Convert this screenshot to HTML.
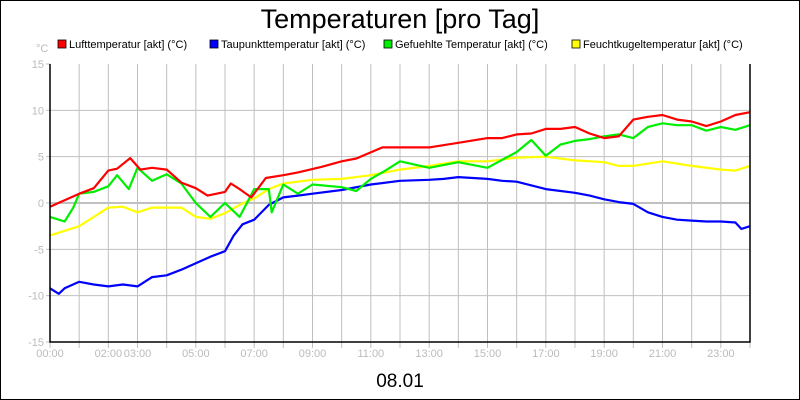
<!DOCTYPE html>
<html><head><meta charset="utf-8">
<style>
html,body{margin:0;padding:0;background:#fff}
svg{display:block;font-family:"Liberation Sans",sans-serif}
</style></head>
<body>
<svg id="chart" width="800" height="400" viewBox="0 0 800 400">
<rect x="0.5" y="0.5" width="799" height="399" fill="#fff" stroke="#000" stroke-width="1"/>
<text x="400" y="28" text-anchor="middle" font-size="27">Temperaturen [pro Tag]</text>
<text x="36" y="52" font-size="11" fill="#bbb">°C</text>
<g id="legend"></g>
<g id="grid"></g>
<g id="series"></g>
<g id="axes"></g>
<text x="400" y="387" text-anchor="middle" font-size="19">08.01</text>
</svg>
<script>
const legendLabels=["Lufttemperatur [akt] (°C)","Taupunkttemperatur [akt] (°C)","Gefuehlte Temperatur [akt] (°C)","Feuchtkugeltemperatur [akt] (°C)"];
const seriesColors=["#ff0000","#0000ff","#00ee00","#ffff00"];
const yTicks=[15,10,5,0,-5,-10,-15];
const xTickLabels=["00:00","02:00","03:00","05:00","07:00","09:00","11:00","13:00","15:00","17:00","19:00","21:00","23:00"];
const xTickHours=[0,2,3,5,7,9,11,13,15,17,19,21,23];
const luftHours=[0,0.5,1,1.5,2,2.3,2.75,3.1,3.5,4,4.5,5,5.4,6,6.2,6.5,6.9,7.4,8,8.5,9.3,10,10.5,11.4,12,13,14,15,15.5,16,16.5,17,17.5,18,18.5,19,19.5,20,20.5,21,21.5,22,22.5,23,23.5,24];
const luft=[-0.4,0.3,1,1.6,3.5,3.7,4.85,3.6,3.8,3.6,2.2,1.6,0.8,1.2,2.1,1.5,0.6,2.7,3,3.3,3.9,4.5,4.8,6,6,6,6.5,7,7,7.4,7.5,8,8,8.2,7.5,7,7.2,9,9.3,9.5,9,8.8,8.3,8.8,9.5,9.8];
const tauHours=[0,0.3,0.5,1,1.5,2,2.5,3,3.5,4,4.5,5,5.5,6,6.3,6.6,7,7.5,8,8.5,9,10,11,12,13,13.5,14,15,15.5,16,17,18,18.5,19,19.5,20,20.5,21,21.5,22,22.5,23,23.5,23.7,24];
const tau=[-9.2,-9.8,-9.2,-8.5,-8.8,-9,-8.8,-9,-8,-7.8,-7.2,-6.5,-5.8,-5.2,-3.5,-2.3,-1.8,-0.2,0.6,0.8,1,1.4,2,2.4,2.5,2.6,2.8,2.6,2.4,2.3,1.5,1.1,0.8,0.4,0.1,-0.1,-1,-1.5,-1.8,-1.9,-2,-2,-2.1,-2.8,-2.5];
const gefHours=[0,0.5,0.8,1,1.5,2,2.3,2.7,3,3.5,4,4.5,5,5.5,6,6.5,7,7.5,7.6,8,8.5,9,10,10.5,11,11.5,12,13,14,15,16,16.5,17,17.5,18,18.5,19,19.5,20,20.5,21,21.5,22,22.5,23,23.5,24];
const gef=[-1.5,-2,-0.5,1,1.2,1.8,3,1.5,3.8,2.4,3.1,2.1,0,-1.5,0,-1.5,1.5,1.5,-1,2,1,2,1.7,1.3,2.6,3.5,4.5,3.8,4.4,3.8,5.5,6.8,5.1,6.3,6.7,6.9,7.2,7.4,7,8.2,8.6,8.4,8.4,7.8,8.2,7.9,8.4];
const feuHours=[0,0.5,1,1.5,2,2.5,3,3.5,4,4.5,5,5.5,6,6.5,7,7.5,8,9,10,11,12,13,14,15,16,17,18,19,19.5,20,21,22,23,23.5,24];
const feu=[-3.5,-3,-2.5,-1.5,-0.5,-0.4,-1,-0.5,-0.5,-0.5,-1.5,-1.7,-1.1,-0.2,0.5,1.5,2.1,2.5,2.6,3,3.6,4,4.5,4.5,4.9,5,4.6,4.4,4,4,4.5,4,3.6,3.5,4];
const NS="http://www.w3.org/2000/svg";
const X0=50,X1=750,Y0=64,Y1=342;
function xs(h){return X0+(X1-X0)*h/24;}
function ys(v){return Y1-(v+15)/30*(Y1-Y0);}
const grid=document.getElementById('grid'),axes=document.getElementById('axes'),ser=document.getElementById('series'),leg=document.getElementById('legend');
function mk(tag,attrs,parent){const e=document.createElementNS(NS,tag);for(const k in attrs)e.setAttribute(k,attrs[k]);parent.appendChild(e);return e;}
for(let h=1;h<24;h++){
 const l=mk('line',{x1:xs(h),x2:xs(h),y1:Y0,y2:Y1,stroke:'#c0c0c0','stroke-width':1},grid);
 
 
}
for(let h=0;h<=24;h++){
 const t=mk('line',{x1:xs(h),x2:xs(h),y1:Y1,y2:Y1+6,stroke:'#c0c0c0'},axes);
 
 
}
yTicks.forEach(v=>{
 if(v!==15&&v!==-15){const l=mk('line',{x1:X0,x2:X1,y1:ys(v),y2:ys(v),stroke:'#c0c0c0','stroke-width':v===0?2:1},grid);
 
 }
 const tk=mk('line',{x1:X0-4,x2:X0,y1:ys(v),y2:ys(v),stroke:'#c0c0c0'},axes);
 
 
 const t=mk('text',{x:X0-6,y:ys(v)+4,'text-anchor':'end','font-size':11,fill:'#bbb'},axes);
 t.textContent=v;
 
 
});
xTickHours.forEach((h,i)=>{
 const t=mk('text',{x:xs(h),y:Y1+15,'text-anchor':'middle','font-size':11,fill:'#bbb'},axes);
 t.textContent=xTickLabels[i];
 
 
});
const fr=mk('path',{d:`M${X0},${Y0}V${Y1}H${X1}V${Y0}`,fill:'none',stroke:'#000','stroke-width':1.5},axes);


const allSeries=[[luftHours,luft],[tauHours,tau],[gefHours,gef],[feuHours,feu]];
const names=['luft-line','taupunkt-line','gefuehlt-line','feuchtkugel-line'];
[3,1,2,0].forEach(i=>{
 const [hs,vs]=allSeries[i];
 const d=hs.map((h,j)=>(j?'L':'M')+xs(h).toFixed(1)+','+ys(vs[j]).toFixed(1)).join('');
 const p=mk('path',{d:d,fill:'none',stroke:seriesColors[i],'stroke-width':2.2,'stroke-linejoin':'round'},ser);
 
 
});
const legX=[58,210,384,572];
legendLabels.forEach((lab,i)=>{
 const r=mk('rect',{x:legX[i],y:40,width:8,height:8,fill:seriesColors[i],stroke:'#000','stroke-width':0.8},leg);
 
 
 const t=mk('text',{x:legX[i]+11,y:48,'font-size':11},leg);
 t.textContent=lab;
 
 
});
</script>
</body></html>
